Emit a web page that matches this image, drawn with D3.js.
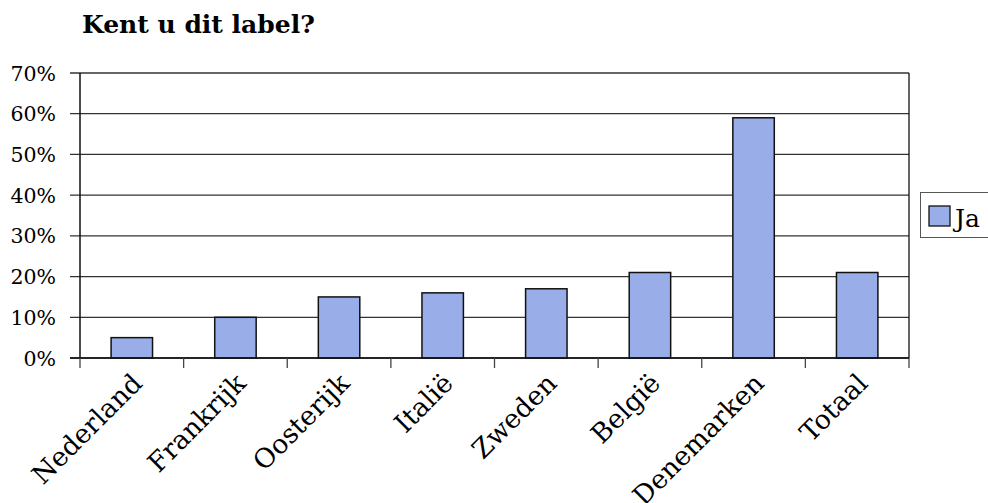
<!DOCTYPE html>
<html><head><meta charset="utf-8">
<script src="https://cdn.jsdelivr.net/npm/d3@7"></script>
<style>body{margin:0;background:#fff}svg{display:block}</style>
</head><body>
<svg id="c" width="988" height="503"></svg>
<script>
const categories = ["Nederland","Frankrijk","Oosterijk","Italië","Zweden","België","Denemarken","Totaal"];
const values = [5,10,15,16,17,21,59,21];
const yTicks = [0,10,20,30,40,50,60,70];
const seriesName = "Ja";
const title = "Kent u dit label?";

const svg = d3.select("#c");
const font = "'DejaVu Serif', serif";
const L = 80, R = 909, T = 73, B = 358;
const x = d3.scaleBand().domain(categories).range([L, R]).paddingInner(0).paddingOuter(0);
const y = d3.scaleLinear().domain([0,70]).range([B, T]);

svg.append("text").attr("x", 82).attr("y", 33).attr("font-family", font).attr("font-weight","bold")
  .attr("font-size", 25).attr("fill","#000").text(title);

// gridlines
svg.append("g").selectAll("line").data(yTicks).join("line")
  .attr("x1", L-10).attr("x2", R).attr("y1", d=>y(d)).attr("y2", d=>y(d))
  .attr("stroke","#333").attr("stroke-width",1.3);

// y labels
svg.append("g").selectAll("text").data(yTicks).join("text")
  .attr("x", 56).attr("y", d=>y(d)+7.5).attr("text-anchor","end")
  .attr("font-family", font).attr("font-size", 20.5).text(d=>d+"%");

// bars
const bw = x.bandwidth()*0.4;
svg.append("g").selectAll("rect").data(values).join("rect")
  .attr("x",(d,i)=>x(categories[i])+x.bandwidth()/2-bw/2)
  .attr("width", bw)
  .attr("y", d=>y(d)).attr("height", d=>B-y(d))
  .attr("fill","#99aee8").attr("stroke","#111").attr("stroke-width",1.5);

// axes lines
svg.append("line").attr("x1",L).attr("x2",L).attr("y1",T).attr("y2",B).attr("stroke","#111").attr("stroke-width",1.5);
svg.append("line").attr("x1",R).attr("x2",R).attr("y1",T).attr("y2",B).attr("stroke","#111").attr("stroke-width",1.3);
svg.append("line").attr("x1",L-10).attr("x2",R).attr("y1",B).attr("y2",B).attr("stroke","#111").attr("stroke-width",1.5);

// category ticks
const edges = categories.map(c=>x(c)).concat([R]);
svg.append("g").selectAll("line").data(edges).join("line")
  .attr("x1",d=>d).attr("x2",d=>d).attr("y1",B).attr("y2",B+10)
  .attr("stroke","#444").attr("stroke-width",1.3);

// category labels
svg.append("g").selectAll("text").data(categories).join("text")
  .attr("transform", d=>`translate(${x(d)+x.bandwidth()/2+12},${B+27}) rotate(-45)`)
  .attr("text-anchor","end").attr("font-family", font).attr("font-size", 26.5).text(d=>d);

// legend
const lg = svg.append("g");
lg.append("rect").attr("x",920.5).attr("y",192.5).attr("width",80).attr("height",45)
  .attr("fill","#fff").attr("stroke","#555").attr("stroke-width",1);
lg.append("rect").attr("x",929).attr("y",206).attr("width",21).attr("height",20)
  .attr("fill","#99aee8").attr("stroke","#111").attr("stroke-width",1.3);
lg.append("text").attr("x",955).attr("y",227).attr("font-family",font).attr("font-size",25).text(seriesName);
</script>
</body></html>
